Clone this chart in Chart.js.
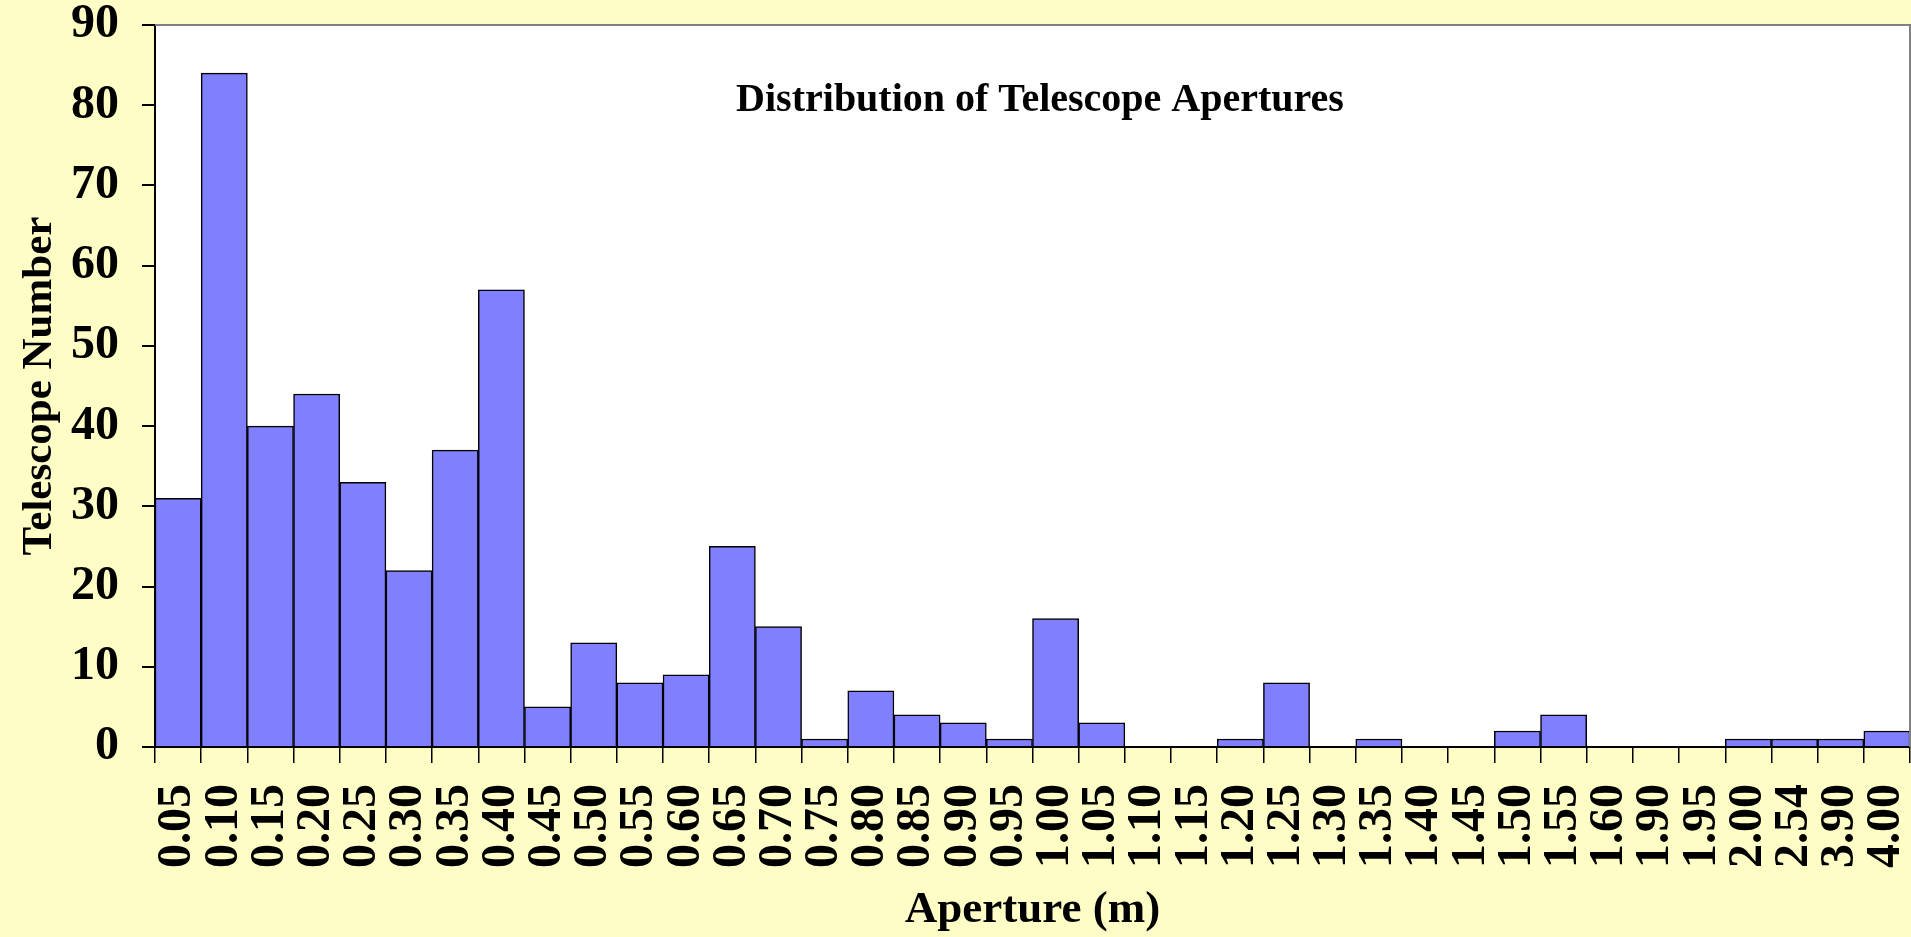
<!DOCTYPE html>
<html>
<head>
<meta charset="utf-8">
<script src="https://cdn.jsdelivr.net/npm/chart.js@4.4.1/dist/chart.umd.min.js"></script>
<style>
  html, body { margin: 0; padding: 0; background: #FDFDC5; }
  canvas { display: block; }
</style>
</head>
<body>
<canvas id="c" width="1911" height="937"></canvas>
<script>
const apertureLabels = ['0.05','0.10','0.15','0.20','0.25','0.30','0.35','0.40','0.45','0.50',
  '0.55','0.60','0.65','0.70','0.75','0.80','0.85','0.90','0.95','1.00',
  '1.05','1.10','1.15','1.20','1.25','1.30','1.35','1.40','1.45','1.50',
  '1.55','1.60','1.90','1.95','2.00','2.54','3.90','4.00'];
const telescopeCounts = [31,84,40,44,33,22,37,57,5,13,
  8,9,25,15,1,7,4,3,1,16,
  3,0,0,1,8,0,1,0,0,2,
  4,0,0,0,1,1,1,2];
const yTickValues = [0,10,20,30,40,50,60,70,80,90];
const chartTitle = 'Distribution of Telescope Apertures';
const xTitle = 'Aperture (m)';
const yTitle = 'Telescope Number';

const FONT = '"Liberation Serif", "Times New Roman", serif';

const plotBg = {
  id: 'plotBg',
  beforeDraw(chart) {
    const {ctx, chartArea: a} = chart;
    ctx.save();
    ctx.fillStyle = '#FFFFFF';
    ctx.fillRect(a.left, a.top, a.right - a.left, a.bottom - a.top);
    ctx.restore();
  },
  afterDraw(chart) {
    const {ctx, chartArea: a} = chart;
    ctx.save();
    ctx.strokeStyle = '#808080';
    ctx.lineWidth = 2;
    ctx.beginPath();
    ctx.moveTo(a.left, a.top);
    ctx.lineTo(a.right, a.top);
    ctx.lineTo(a.right, a.bottom);
    ctx.stroke();
    // inner title
    ctx.fillStyle = '#000000';
    ctx.font = 'bold 40px ' + FONT;
    ctx.textAlign = 'center';
    ctx.textBaseline = 'alphabetic';
    ctx.fillText(chartTitle, 1040, 111);
    ctx.restore();
  }
};

new Chart(document.getElementById('c'), {
  type: 'bar',
  data: {
    labels: apertureLabels,
    datasets: [{
      data: telescopeCounts,
      backgroundColor: '#8080FF',
      borderColor: '#000000',
      borderWidth: 1.5,
      borderSkipped: 'start',
      categoryPercentage: 1.0,
      barPercentage: 1.0
    }]
  },
  options: {
    responsive: false,
    devicePixelRatio: 1,
    animation: false,
    layout: { padding: { top: 25, right: 1, left: 0, bottom: 0 } },
    plugins: { legend: { display: false }, tooltip: { enabled: false }, title: { display: false } },
    scales: {
      x: {
        grid: { display: true, drawOnChartArea: false, drawTicks: true, tickLength: 16, color: '#000000', lineWidth: 1.5, offset: true },
        border: { display: true, color: '#000000', width: 2 },
        ticks: {
          autoSkip: false, maxRotation: 90, minRotation: 90, padding: 21,
          color: '#000000',
          font: { family: FONT, size: 48, weight: 'bold' }
        },
        title: {
          display: true, text: xTitle, color: '#000000',
          font: { family: FONT, size: 45, weight: 'bold' },
          padding: { top: 0, bottom: 0 }
        },
        afterFit(scale) { scale.height = 190; scale.paddingLeft = 0; scale.paddingRight = 0; }
      },
      y: {
        min: 0, max: 90,
        afterBuildTicks(scale) { scale.ticks = yTickValues.map(v => ({ value: v })); },
        grid: { display: true, drawOnChartArea: false, drawTicks: true, tickLength: 13, color: '#000000', lineWidth: 2 },
        border: { display: true, color: '#000000', width: 2 },
        ticks: {
          padding: 23, color: '#000000',
          font: { family: FONT, size: 48, weight: 'bold' }
        },
        title: {
          display: true, text: yTitle, color: '#000000',
          font: { family: FONT, size: 43, weight: 'bold' },
          padding: { top: 14, bottom: 0 }
        },
        afterFit(scale) { scale.width = 155; scale.paddingTop = 0; scale.paddingBottom = 0; }
      }
    }
  },
  plugins: [plotBg]
});
</script>
</body>
</html>
